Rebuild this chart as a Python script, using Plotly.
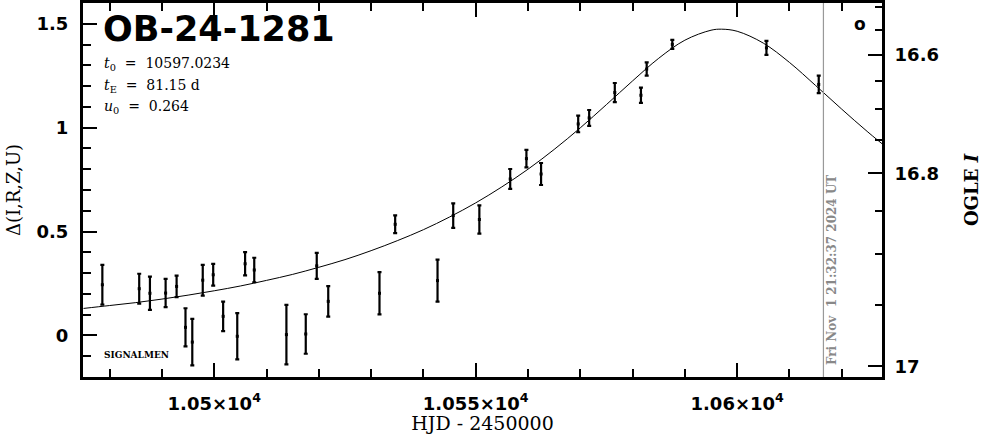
import math
import plotly.graph_objects as go

# ---------------- data ----------------
hjd = [10478.6, 10485.65, 10487.7, 10490.7, 10492.8, 10494.5, 10495.8, 10497.8,
       10499.8, 10501.7, 10504.4, 10505.9, 10507.65, 10513.8, 10517.5, 10519.6,
       10521.8, 10531.6, 10534.6, 10542.7, 10545.7, 10550.7, 10556.6, 10559.7,
       10562.5, 10569.6, 10571.7, 10576.6, 10581.6, 10582.7, 10587.6, 10605.6,
       10615.6]
delta = [0.244, 0.225, 0.203, 0.204, 0.236, 0.039, -0.032, 0.266,
         0.292, 0.092, -0.004, 0.345, 0.315, 0.004, 0.007, 0.335,
         0.164, 0.203, 0.535, 0.264, 0.577, 0.558, 0.753, 0.851,
         0.777, 1.018, 1.047, 1.169, 1.156, 1.282, 1.401, 1.384,
         1.208]
delta_err = [0.096, 0.072, 0.080, 0.068, 0.052, 0.092, 0.112, 0.074,
             0.052, 0.071, 0.111, 0.056, 0.059, 0.143, 0.095, 0.0625,
             0.073, 0.102, 0.043, 0.101, 0.059, 0.068, 0.048, 0.042,
             0.053, 0.040, 0.038, 0.046, 0.037, 0.032, 0.022, 0.034,
             0.042]

# model curve
model_t = [10475, 10480, 10485, 10490, 10495, 10500, 10505, 10510, 10515, 10520,
           10525, 10530, 10535, 10540, 10545, 10550, 10555, 10560, 10565, 10570,
           10575, 10580, 10585, 10590, 10595, 10597.02, 10600, 10605, 10610, 10615,
           10620, 10625, 10630]
model_d = [0.130, 0.144, 0.158, 0.175, 0.194, 0.215, 0.238, 0.265, 0.294, 0.328,
           0.365, 0.408, 0.456, 0.509, 0.570, 0.638, 0.715, 0.800, 0.895, 0.999,
           1.111, 1.225, 1.334, 1.421, 1.469, 1.474, 1.464, 1.407, 1.314, 1.203,
           1.089, 0.979, 0.876]

x_tick_vals = [10500, 10550, 10600]
x_tick_text = ["1.05×10<sup>4</sup>", "1.055×10<sup>4</sup>", "1.06×10<sup>4</sup>"]
y_tick_vals = [0, 0.5, 1, 1.5]
y_tick_text = ["0", "0.5", "1", "1.5"]
ogle_major = [16.6, 16.8, 17.0]
ogle_major_text = ["16.6", "16.8", "17"]
ogle_minor = [16.5, 16.55, 16.65, 16.7, 16.75, 16.85, 16.9, 16.95]

event_name = "OB-24-1281"
param_lines = ["<i>t</i><sub>0</sub>\u00a0 = \u00a010597.0234",
               "<i>t</i><sub>E</sub>\u00a0 = \u00a081.15 d",
               "<i>u</i><sub>0</sub>\u00a0 = \u00a00.264"]
now_hjd = 10616.5
now_text = "Fri Nov\u00a0\u00a01 21:32:37 2024 UT"

# mapping OGLE I magnitude -> Delta axis (blended flux scale of the right axis)
FA, FB = 0.8506, 0.1714
def mag_to_delta(m):
    f = 10 ** (-0.4 * (m - 17.0))
    return 2.5 * math.log10((f - FA) / FB)

XR = [10474.9, 10627.7]
YR = [-0.2, 1.6]

tickfont = dict(family="DejaVu Sans", size=18, color="black", weight="bold")
serif = "DejaVu Serif"

fig = go.Figure()
fig.add_trace(go.Scatter(x=model_t, y=model_d, mode="lines",
                         line=dict(color="black", width=1, shape="spline"),
                         hoverinfo="skip", showlegend=False))
fig.add_trace(go.Scatter(x=hjd, y=delta, mode="markers",
                         marker=dict(color="black", size=3, symbol="square"),
                         error_y=dict(type="data", array=delta_err, color="black",
                                      thickness=2.2, width=2),
                         showlegend=False))
fig.add_trace(go.Scatter(x=[XR[0]], y=[0], yaxis="y2", mode="markers",
                         marker=dict(opacity=0), hoverinfo="skip", showlegend=False))

fig.update_layout(
    width=986, height=434,
    margin=dict(l=83, r=104, t=3, b=57),
    plot_bgcolor="white", paper_bgcolor="white",
    showlegend=False,
    xaxis=dict(range=XR, tickmode="array", tickvals=x_tick_vals, ticktext=x_tick_text,
               ticks="inside", ticklen=14, tickwidth=2, tickcolor="black",
               minor=dict(dtick=10, tick0=10500, ticks="inside", ticklen=8,
                          tickwidth=2, tickcolor="black"),
               showline=True, linewidth=3, linecolor="black", mirror="ticks",
               showgrid=False, zeroline=False, tickfont=tickfont,
               ticklabelstandoff=8, automargin=False,
               title=dict(text="HJD - 2450000", standoff=4,
                          font=dict(family=serif, size=19, color="black"))),
    yaxis=dict(range=YR, tickmode="array", tickvals=y_tick_vals, ticktext=y_tick_text,
               ticks="inside", ticklen=14, tickwidth=2, tickcolor="black",
               minor=dict(dtick=0.1, tick0=0, ticks="inside", ticklen=8,
                          tickwidth=2, tickcolor="black"),
               showline=True, linewidth=3, linecolor="black", mirror=False,
               showgrid=False, zeroline=False, tickfont=tickfont,
               ticklabelstandoff=8, automargin=False,
               title=dict(text="Δ(I,R,Z,U)", standoff=12,
                          font=dict(family=serif, size=18, color="black"))),
    yaxis2=dict(range=YR, overlaying="y", side="right", anchor="x",
                tickmode="array", tickvals=[mag_to_delta(m) for m in ogle_major],
                ticktext=ogle_major_text,
                ticks="inside", ticklen=14, tickwidth=2, tickcolor="black",
                minor=dict(tickmode="array", tickvals=[mag_to_delta(m) for m in ogle_minor],
                           ticks="inside", ticklen=7, tickwidth=2, tickcolor="black"),
                showline=True, linewidth=3, linecolor="black",
                showgrid=False, zeroline=False, tickfont=tickfont,
                ticklabelstandoff=6, automargin=False,
                title=dict(text="OGLE <i>I</i>", standoff=28,
                           font=dict(family=serif, size=18, color="black", weight="bold"))),
)

fig.add_shape(type="line", x0=now_hjd, x1=now_hjd, y0=0, y1=1, xref="x", yref="paper",
              line=dict(color="#999999", width=1.2))

annos = [
    dict(text=event_name, x=(101 - 83) / 799, y=1 - (29 - 3) / 374,
         font=dict(family="DejaVu Sans", size=35, color="black", weight="bold")),
    dict(text=param_lines[0], x=(102 - 83) / 799, y=1 - (64 - 3) / 374,
         font=dict(family=serif, size=14, color="black")),
    dict(text=param_lines[1], x=(102 - 83) / 799, y=1 - (86 - 3) / 374,
         font=dict(family=serif, size=14, color="black")),
    dict(text=param_lines[2], x=(102 - 83) / 799, y=1 - (107 - 3) / 374,
         font=dict(family=serif, size=14, color="black")),
    dict(text="SIGNALMEN", x=(102 - 83) / 799, y=1 - (355 - 3) / 374,
         font=dict(family=serif, size=9, color="black", weight="bold")),
]
for a in annos:
    fig.add_annotation(xref="paper", yref="paper", xanchor="left", yanchor="middle",
                       showarrow=False, **a)

fig.add_annotation(text=now_text, x=now_hjd, y=0.317, xref="x", yref="y",
                   xshift=8, textangle=-90, showarrow=False,
                   font=dict(family=serif, size=12, color="#888888", weight="bold"))
fig.add_annotation(text="<b>o</b>", x=10623.4, y=1.5, xref="x", yref="y",
                   showarrow=False, font=dict(family="DejaVu Sans", size=17, color="black"))

fig.write_html("out.html", config={"displayModeBar": False},
               post_script="document.body.style.margin='0';")
